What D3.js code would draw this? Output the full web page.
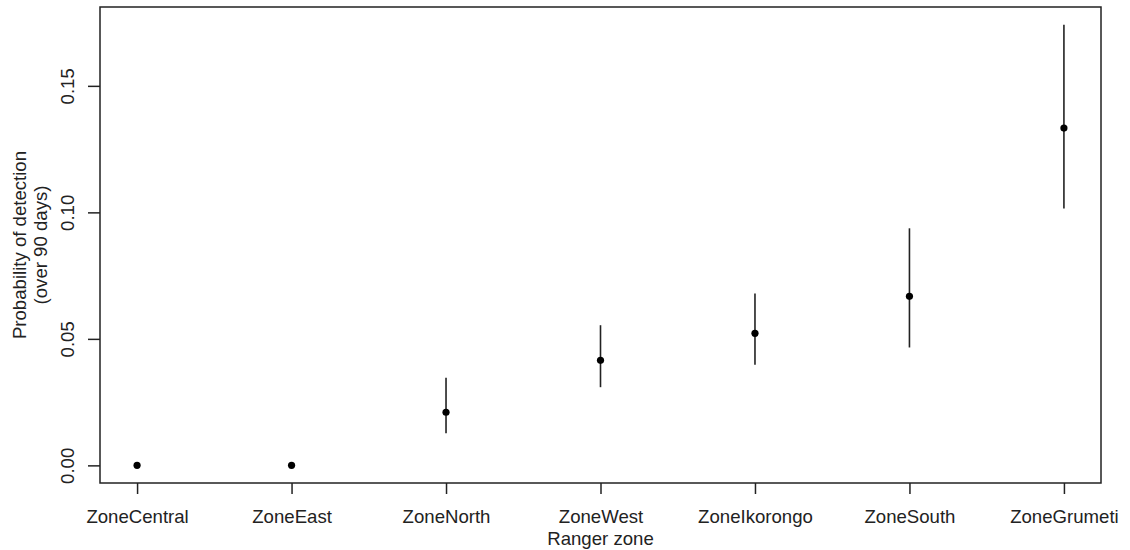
<!DOCTYPE html>
<html>
<head>
<meta charset="utf-8">
<script src="https://cdn.jsdelivr.net/npm/d3@7"></script>
<style>
  body { margin: 0; background: #fff; }
  text { font-family: "Liberation Sans", Arial, sans-serif; fill: #222; }
</style>
</head>
<body>
<div id="canvas"></div>
<script>
// data
const zones = ['ZoneCentral', 'ZoneEast', 'ZoneNorth', 'ZoneWest', 'ZoneIkorongo', 'ZoneSouth', 'ZoneGrumeti'];
const estimate = [0, 0, 0.0210, 0.0415, 0.0522, 0.0668, 0.1333];
const lower = [null, null, 0.0127, 0.0309, 0.0398, 0.0466, 0.1015];
const upper = [null, null, 0.0346, 0.0554, 0.0679, 0.0937, 0.1742];
const yTicks = [0, 0.05, 0.10, 0.15];

const width = 1130;
const height = 550;
const fontSize = 18.6;

const canvas = d3.select('#canvas')
                .append('svg')
                .attr('width', width)
                .attr('height', height)
                .style('display', 'block');

// plot region (R style, 4% padding on both scales)
const margin = { top: 7, right: 29, bottom: 67, left: 100 };
const innerWidth = width - margin.left - margin.right;
const innerHeight = height - margin.top - margin.bottom;

const xScale = d3.scaleLinear()
                .domain([0.76, 7.24])
                .range([margin.left, margin.left + innerWidth]);

const yMax = 0.1742, yMin = 0;
const pad = (yMax - yMin) * 0.04;
const yScale = d3.scaleLinear()
                .domain([yMin - pad, yMax + pad])
                .range([margin.top + innerHeight, margin.top]);

// box
canvas.append('rect')
    .attr('x', margin.left)
    .attr('y', margin.top)
    .attr('width', innerWidth)
    .attr('height', innerHeight)
    .attr('fill', 'none')
    .attr('stroke', '#222')
    .attr('stroke-width', 1.5);

// x axis
const xAxis = d3.axisBottom(xScale)
                .tickValues(d3.range(1, zones.length + 1))
                .tickFormat(d => zones[d - 1])
                .tickSize(11)
                .tickSizeOuter(0);
const gx = canvas.append('g')
    .attr('transform', `translate(0,${margin.top + innerHeight})`)
    .call(xAxis);
gx.select('.domain').remove();
gx.selectAll('line').attr('stroke', '#222').attr('stroke-width', 1.5);
gx.selectAll('text')
    .attr('font-size', fontSize)
    .attr('fill', '#222')
    .attr('font-family', '"Liberation Sans", Arial, sans-serif')
    .attr('y', 40)
    .attr('dy', 0);

// y axis
const yAxis = d3.axisLeft(yScale)
                .tickValues(yTicks)
                .tickFormat(d3.format('.2f'))
                .tickSize(12)
                .tickSizeOuter(0);
const gy = canvas.append('g')
    .attr('transform', `translate(${margin.left},0)`)
    .call(yAxis);
gy.select('.domain').remove();
gy.selectAll('line').attr('stroke', '#222').attr('stroke-width', 1.5);
gy.selectAll('text')
    .attr('font-size', fontSize)
    .attr('fill', '#222')
    .attr('font-family', '"Liberation Sans", Arial, sans-serif')
    .attr('text-anchor', 'middle')
    .attr('x', 0)
    .attr('dy', 0)
    .attr('transform', 'translate(-26,0) rotate(-90)');

// axis titles
canvas.append('text')
    .attr('x', margin.left + innerWidth / 2)
    .attr('y', 545)
    .attr('text-anchor', 'middle')
    .attr('font-size', fontSize)
    .text('Ranger zone');

const yc = margin.top + innerHeight / 2;
canvas.append('text')
    .attr('transform', `translate(26,${yc}) rotate(-90)`)
    .attr('text-anchor', 'middle')
    .attr('font-size', fontSize)
    .text('Probability of detection');
canvas.append('text')
    .attr('transform', `translate(47,${yc}) rotate(-90)`)
    .attr('text-anchor', 'middle')
    .attr('font-size', fontSize)
    .text('(over 90 days)');

// error bars
const rows = zones.map((z, i) => ({ i: i + 1, est: estimate[i], lo: lower[i], hi: upper[i] }));

canvas.append('g').selectAll('line')
    .data(rows.filter(d => d.lo !== null))
    .enter().append('line')
        .attr('x1', d => xScale(d.i))
        .attr('x2', d => xScale(d.i))
        .attr('y1', d => yScale(d.lo))
        .attr('y2', d => yScale(d.hi))
        .attr('stroke', '#222')
        .attr('stroke-width', 1.6);

// points
canvas.append('g').selectAll('circle')
    .data(rows)
    .enter().append('circle')
        .attr('cx', d => xScale(d.i))
        .attr('cy', d => yScale(d.est))
        .attr('r', 3.6)
        .attr('fill', '#000');
</script>
</body>
</html>
